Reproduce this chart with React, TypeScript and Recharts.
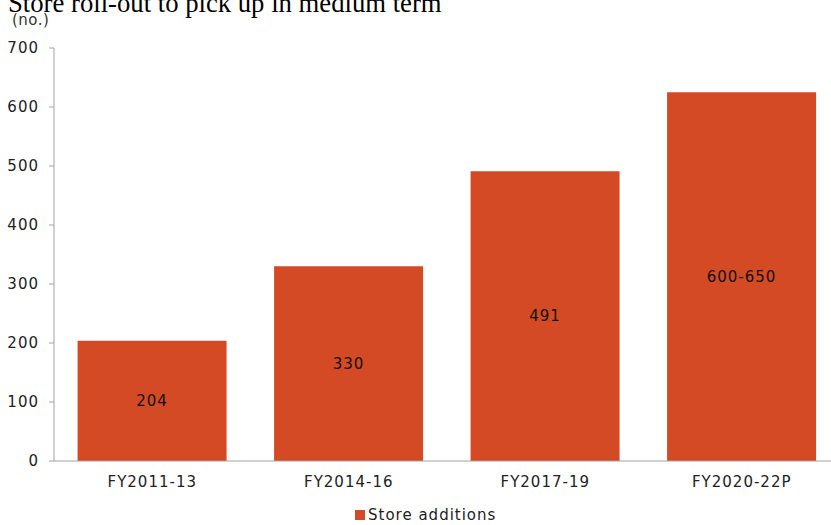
import { BarChart, Bar, XAxis, YAxis, LabelList, Legend } from "recharts"

// Store additions per period
const periods = ["FY2011-13", "FY2014-16", "FY2017-19", "FY2020-22P"]
const storeAdditions = [204, 330, 491, 625]
const barLabels = ["204", "330", "491", "600-650"]
const yTicks = [0, 100, 200, 300, 400, 500, 600, 700]
const bandEdges = [0, 1, 2, 3, 4]

const data = periods.map((p, i) => ({ period: p, value: storeAdditions[i], label: barLabels[i] }))

const FONT = "'DejaVu Sans', Verdana, sans-serif"
const BAR = "#D44A25"
const AXIS = "#a3a3a3"

const LegendBox = () => (
  <div style={{ display: "flex", alignItems: "center", fontFamily: FONT, fontSize: 15, letterSpacing: 1, color: "#222", lineHeight: "20px" }}>
    <span style={{ display: "inline-block", width: 10, height: 10, background: BAR, marginRight: 3 }} />
    Store additions
  </div>
)

export default function App() {
  return (
    <div style={{ position: "absolute", left: 0, top: 0, width: 831, height: 525, overflow: "hidden", background: "#fff" }}>
      <div
        style={{
          position: "absolute",
          left: 8,
          top: -10,
          fontFamily: "'Liberation Serif', 'Times New Roman', serif",
          fontSize: 26.7,
          lineHeight: "26px",
          whiteSpace: "nowrap",
          color: "#000",
        }}
      >
        Store roll-out to pick up in medium term
      </div>
      <div
        style={{
          position: "absolute",
          left: 12,
          top: 11,
          fontFamily: FONT,
          fontSize: 15,
          letterSpacing: 0.5,
          color: "#333",
          lineHeight: "18px",
        }}
      >
        (no.)
      </div>
      {/* plot runs a little past the right edge, as in the original crop */}
      <BarChart
        width={831}
        height={525}
        data={data}
        margin={{ top: 48, right: -9, left: 0, bottom: 0 }}
        barCategoryGap="12%"
      >
        {/* boundary ticks between categories */}
        <XAxis
          xAxisId={0}
          type="number"
          domain={[0, 4]}
          ticks={bandEdges}
          tick={false}
          axisLine={false}
          tickLine={{ stroke: AXIS }}
          tickSize={5}
          height={0}
        />
        <XAxis
          xAxisId="cat"
          dataKey="period"
          height={44}
          tickSize={0}
          tickMargin={15}
          axisLine={{ stroke: AXIS }}
          tickLine={false}
          tick={{ fill: "#222", fontSize: 15, fontFamily: FONT, letterSpacing: 1 }}
        />
        <YAxis
          width={54}
          domain={[0, 700]}
          ticks={yTicks}
          tickSize={5}
          tickMargin={10}
          axisLine={{ stroke: AXIS }}
          tickLine={{ stroke: AXIS }}
          tick={{ fill: "#222", fontSize: 15, fontFamily: FONT, letterSpacing: 1 }}
        />
        <Legend
          verticalAlign="bottom"
          content={<LegendBox />}
          wrapperStyle={{ left: 355, width: "auto", bottom: 0 }}
        />
        <Bar dataKey="value" xAxisId="cat" fill={BAR} name="Store additions" isAnimationActive={false}>
          <LabelList
            dataKey="label"
            position="center"
            fill="#111"
            style={{ fontSize: 15, fontFamily: FONT, letterSpacing: 1 }}
          />
        </Bar>
      </BarChart>
    </div>
  )
}
